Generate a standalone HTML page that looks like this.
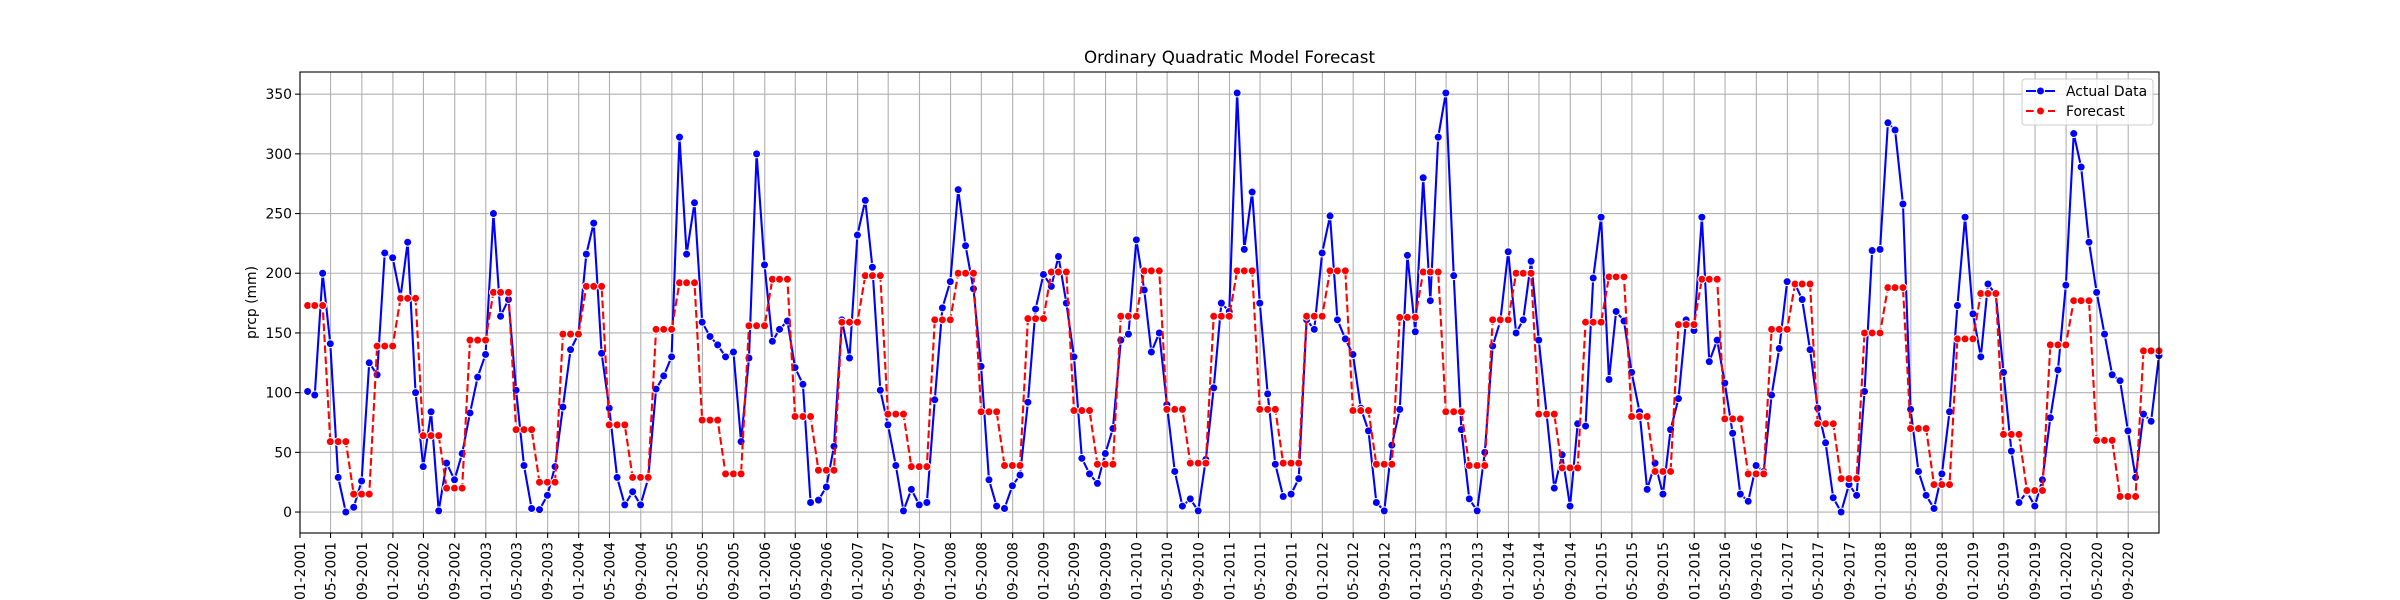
<!DOCTYPE html>
<html><head><meta charset="utf-8"><title>Ordinary Quadratic Model Forecast</title>
<style>
html,body{margin:0;padding:0;background:#fff;}
svg{display:block;font-family:"DejaVu Sans","Liberation Sans",sans-serif;}
</style></head>
<body>
<svg id="chart" width="2400" height="600" viewBox="0 0 2400 600" xmlns="http://www.w3.org/2000/svg">
<rect x="0" y="0" width="2400" height="600" fill="#fff"/>
<g id="grid"></g>
<g id="series"></g>
<g id="axes"></g>
<text x="1229.5" y="63" font-size="16.7" text-anchor="middle" fill="#000">Ordinary Quadratic Model Forecast</text>
<text x="0" y="0" font-size="13.9" text-anchor="middle" fill="#000" transform="translate(256,302.5) rotate(-90)">prcp (mm)</text>
<g>
  <rect x="2022" y="79" width="131" height="46" rx="3" fill="#fff" fill-opacity="0.8" stroke="#cccccc" stroke-width="1"/>
  <g>
    <line x1="2026" y1="91" x2="2055" y2="91" stroke="#0000ff" stroke-width="2.1"/>
    <circle cx="2040.5" cy="91" r="4" fill="#0000ff" stroke="#fff" stroke-width="1"/>
    <text x="2066" y="96" font-size="13.9" fill="#000">Actual Data</text>
  </g>
  <g>
    <line x1="2026" y1="111" x2="2055" y2="111" stroke="#ff0000" stroke-width="2.1" stroke-dasharray="7.7,3.3"/>
    <circle cx="2040.5" cy="111" r="4" fill="#ff0000" stroke="#fff" stroke-width="1"/>
    <text x="2066" y="116" font-size="13.9" fill="#000">Forecast</text>
  </g>
</g>
</svg>
<script>
// ---- data ----
const startYear = 2001;
const actualValues = [
101,98,200,141,29,0,4,26,125,115,217,213,
180,226,100,38,84,1,41,27,49,83,113,132,
250,164,178,102,39,3,2,14,38,88,136,149,
216,242,133,87,29,6,17,6,28,103,114,130,
314,216,259,159,147,140,130,134,59,129,300,207,
143,153,160,121,107,8,10,21,55,161,129,232,
261,205,102,73,39,1,19,6,8,94,171,193,
270,223,187,122,27,5,3,22,31,92,170,199,
189,214,175,130,45,32,24,49,70,144,149,228,
186,134,150,90,34,5,11,1,44,104,175,168,
351,220,268,175,99,40,13,15,28,161,153,217,
248,161,145,132,87,68,8,1,56,86,215,151,
280,177,314,351,198,69,11,1,50,139,160,218,
150,161,210,144,82,20,48,5,74,72,196,247,
111,168,160,117,84,19,41,15,69,95,161,152,
247,126,144,108,66,15,9,39,34,98,137,193,
191,178,136,87,58,12,0,23,14,101,219,220,
326,320,258,86,34,14,3,32,84,173,247,166,
130,191,182,117,51,8,17,5,27,79,119,190,
317,289,226,184,149,115,110,68,29,82,76,131
];
const forecastQuarterly = [
173,59,15,139, 179,64,20,144, 184,69,25,149, 189,73,29,153,
192,77,32,156, 195,80,35,159, 198,82,38,161, 200,84,39,162,
201,85,40,164, 202,86,41,164, 202,86,41,164, 202,85,40,163,
201,84,39,161, 200,82,37,159, 197,80,34,157, 195,78,32,153,
191,74,28,150, 188,70,23,145, 183,65,18,140, 177,60,13,135
];
const yTicks = [0,50,100,150,200,250,300,350];

// ---- scales ----
const NS='http://www.w3.org/2000/svg';
const L=300, R=2159, T=72, B=533;
const d0=Date.UTC(2001,0,1), d1=Date.UTC(2020,11,31);
const yMin=-17.55, yMax=368.55;
function xScale(t){return L+(t-d0)/(d1-d0)*(R-L);}
function yScale(v){return B-(v-yMin)/(yMax-yMin)*(B-T);}
function monthEnd(i){const y=startYear+Math.floor(i/12), m=i%12; return Date.UTC(y,m+1,0);}
function mk(tag,attrs,parent){const e=document.createElementNS(NS,tag);for(const k in attrs)e.setAttribute(k,attrs[k]);parent.appendChild(e);return e;}

const grid=document.getElementById('grid');
const axes=document.getElementById('axes');
const series=document.getElementById('series');

// y grid + ticks
yTicks.forEach(v=>{
  const y=yScale(v);
  const g=mk('line',{x1:L,x2:R,y1:y,y2:y,stroke:'#b0b0b0','stroke-width':1.1},grid);
  
  
  const tk=mk('line',{x1:L-5,x2:L,y1:y,y2:y,stroke:'#000','stroke-width':1.1},axes);
  
  
  const tx=mk('text',{x:L-8,y:y+5,'font-size':13.9,'text-anchor':'end',fill:'#000'},axes);
  
  
  tx.textContent=String(v);
});

// x grid + ticks every 4 months
for(let y=2001;y<=2020;y++){
  for(const m of [0,4,8]){
    const x=xScale(Date.UTC(y,m,1));
    const g=mk('line',{x1:x,x2:x,y1:T,y2:B,stroke:'#b0b0b0','stroke-width':1.1},grid);
    
    
    const tk=mk('line',{x1:x,x2:x,y1:B,y2:B+5,stroke:'#000','stroke-width':1.1},axes);
    
    
    const lab=String(m+1).padStart(2,'0')+'-'+y;
    const tx=mk('text',{x:0,y:0,'font-size':13.9,'text-anchor':'end',fill:'#000',transform:'translate('+(x+5)+','+(B+9)+') rotate(-90)'},axes);
    
    
    tx.textContent=lab;
  }
}

// spines
const frame=mk('rect',{x:L,y:T,width:R-L,height:B-T,fill:'none',stroke:'#000','stroke-width':1.1},axes);



// actual series
const aPts=actualValues.map((v,i)=>[xScale(monthEnd(i)),yScale(v)]);
const aLine=mk('polyline',{points:aPts.map(p=>p.join(',')).join(' '),fill:'none',stroke:'#0000ff','stroke-width':2.1,'stroke-linejoin':'round'},series);


aPts.forEach(p=>{
  const c=mk('circle',{cx:p[0],cy:p[1],r:4,fill:'#0000ff',stroke:'#fff','stroke-width':1},series);
  
  
});

// forecast series (each quarter value spans its 3 months)
const fPts=[];
for(let i=0;i<actualValues.length;i++){
  fPts.push([xScale(monthEnd(i)),yScale(forecastQuarterly[Math.floor(i/3)])]);
}
const fLine=mk('polyline',{points:fPts.map(p=>p.join(',')).join(' '),fill:'none',stroke:'#ff0000','stroke-width':2.1,'stroke-dasharray':'7.7,3.3'},series);


fPts.forEach(p=>{
  const c=mk('circle',{cx:p[0],cy:p[1],r:4,fill:'#ff0000',stroke:'#fff','stroke-width':1},series);
  
  
});
</script>
</body></html>
